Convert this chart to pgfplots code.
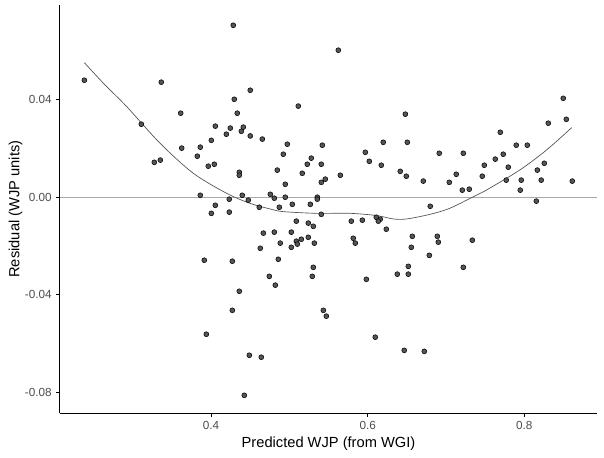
\documentclass[border=0pt]{standalone}
\usepackage{pgfplots}
\pgfplotsset{compat=1.18}
\usepackage{fontspec}
\setmainfont{Liberation Sans}
\definecolor{ptfill}{RGB}{85,85,85}
\definecolor{ticktext}{RGB}{77,77,77}
\definecolor{hline}{RGB}{170,170,170}
\definecolor{curve}{RGB}{80,80,80}
\begin{document}
\begin{tikzpicture}
\begin{axis}[
  scale only axis, width=402.75pt, height=306.2pt,
  xmin=0.2072, xmax=0.8928, ymin=-0.08845, ymax=0.0787,
  axis x line*=bottom, axis y line*=left,
  axis line style={-, black, line width=0.75pt},
  xtick={0.4,0.6,0.8}, xticklabels={0.4,0.6,0.8},
  ytick={-0.08,-0.04,0,0.04}, yticklabels={-0.08,-0.04,0.00,0.04},
  tick align=outside, major tick length=2.75pt,
  tick style={black, line width=0.75pt},
  ticklabel style={font=\fontsize{8.8}{10}\selectfont, text=ticktext},
  xlabel={Predicted WJP (from WGI)},
  ylabel={Residual (WJP units)},
  label style={font=\fontsize{11}{13}\selectfont, text=black},
  xlabel style={at={(axis description cs:0.5,-0.0735)}, anchor=center},
  ylabel style={at={(axis description cs:-0.0829,0.5)}, anchor=center},
]
\addplot[hline, line width=0.5pt] coordinates {(0.2072,0) (0.8928,0)};
\addplot[only marks, mark=*, mark size=1.85pt, mark options={fill=ptfill, draw=black, line width=0.4pt}] table {
x y
0.2383 0.0479
0.4284 0.0704
0.3365 0.0471
0.4501 0.0438
0.4297 0.0401
0.3613 0.0344
0.4335 0.0344
0.3110 0.0299
0.4055 0.0291
0.4246 0.0283
0.4412 0.0287
0.4387 0.0270
0.4196 0.0258
0.4501 0.0251
0.4004 0.0233
0.3626 0.0201
0.3863 0.0205
0.3825 0.0168
0.3276 0.0143
0.3353 0.0152
0.3965 0.0127
0.4042 0.0135
0.4361 0.0102
0.4361 0.0090
0.3863 0.0008
0.4399 0.0008
0.4055 -0.0033
0.4233 -0.0008
0.4476 -0.0012
0.4616 -0.0041
0.5625 0.0602
0.5114 0.0373
0.6481 0.0340
0.4655 0.0238
0.4974 0.0217
0.5421 0.0213
0.6199 0.0225
0.6506 0.0225
0.5970 0.0184
0.6914 0.0180
0.4923 0.0176
0.5280 0.0160
0.6021 0.0147
0.5229 0.0135
0.5408 0.0135
0.6174 0.0131
0.4846 0.0111
0.5165 0.0098
0.5651 0.0090
0.6416 0.0106
0.6493 0.0086
0.6710 0.0066
0.7042 0.0061
0.4948 0.0053
0.5459 0.0074
0.5408 0.0061
0.4757 0.0012
0.4808 -0.0004
0.4948 0.0000
0.5357 0.0000
0.5357 -0.0008
0.4872 -0.0041
0.5038 -0.0029
0.5268 -0.0029
0.6799 -0.0037
0.8497 0.0405
0.8536 0.0319
0.8306 0.0303
0.7693 0.0266
0.7897 0.0213
0.8038 0.0213
0.7221 0.0180
0.7629 0.0156
0.7731 0.0176
0.7489 0.0131
0.7795 0.0123
0.8255 0.0139
0.8166 0.0111
0.7131 0.0094
0.7463 0.0086
0.7769 0.0070
0.7961 0.0070
0.8216 0.0070
0.8612 0.0066
0.7208 0.0029
0.7297 0.0033
0.7948 0.0029
0.8153 -0.0016
0.4004 -0.0066
0.4233 -0.0061
0.4629 -0.0209
0.3914 -0.0258
0.4272 -0.0262
0.4361 -0.0385
0.4272 -0.0463
0.3940 -0.0561
0.4489 -0.0647
0.4642 -0.0655
0.4425 -0.0811
0.5408 -0.0070
0.5089 -0.0098
0.5242 -0.0106
0.5306 -0.0119
0.5791 -0.0098
0.5932 -0.0094
0.6110 -0.0082
0.6161 -0.0090
0.6136 -0.0098
0.6238 -0.0131
0.4668 -0.0147
0.4808 -0.0143
0.5025 -0.0143
0.5242 -0.0164
0.5153 -0.0172
0.5089 -0.0180
0.5102 -0.0192
0.4884 -0.0188
0.5025 -0.0205
0.5319 -0.0188
0.5816 -0.0168
0.5842 -0.0188
0.6570 -0.0160
0.6557 -0.0205
0.6889 -0.0160
0.6902 -0.0184
0.6787 -0.0238
0.4859 -0.0254
0.5306 -0.0287
0.5293 -0.0324
0.4744 -0.0324
0.4821 -0.0360
0.5983 -0.0336
0.6378 -0.0315
0.6519 -0.0283
0.6519 -0.0315
0.5434 -0.0463
0.5472 -0.0487
0.6097 -0.0573
0.6467 -0.0627
0.6723 -0.0631
0.7336 -0.0176
0.7221 -0.0287
};
\addplot[curve, line width=0.5pt, smooth] coordinates {
(0.2383,0.0551) (0.2625,0.0467) (0.2924,0.0371) (0.3349,0.0221)
(0.3774,0.0098) (0.4200,0.0016) (0.4498,-0.0025) (0.4753,-0.0048)
(0.4923,-0.0059) (0.5349,-0.0066) (0.5775,-0.0066) (0.6115,-0.0075)
(0.6327,-0.0089) (0.6498,-0.0089) (0.6796,-0.0070) (0.7051,-0.0045)
(0.7392,0.0009) (0.7520,0.0030) (0.7945,0.0112) (0.8286,0.0194)
(0.8605,0.0285)
};
\end{axis}
\pgfresetboundingbox
\path[use as bounding box] ([shift={(-45pt,-33.5pt)}]current axis.south west) rectangle ([shift={(5.25pt,3.75pt)}]current axis.north east);
\end{tikzpicture}
\end{document}
